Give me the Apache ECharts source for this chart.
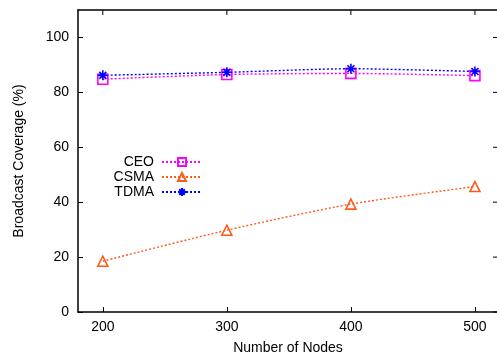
<!DOCTYPE html>
<html>
<head>
<meta charset="utf-8">
<script src="https://cdn.jsdelivr.net/npm/echarts@6/dist/echarts.min.js"></script>
<style>
  html, body { margin: 0; padding: 0; background: #fff; }
  #chart { width: 497px; height: 360px; }
</style>
</head>
<body>
<div id="chart"></div>
<script>
// Number of nodes on the x axis
const nodes = [200, 300, 400, 500];
const xTicks = [200, 300, 400, 500];
const yTicks = [0, 20, 40, 60, 80, 100];

// Broadcast coverage (%) for each scheme
const ceo = [84.8, 86.5, 86.9, 86.1];
const csma = [18.5, 29.8, 39.3, 45.7];
const tdma = [86.2, 87.3, 88.6, 87.6];

const FONT = 'Liberation Sans, Arial, sans-serif';
const asterisk = 'path://M0,5L10,5M5,0L5,10M1.5,1.5L8.5,8.5M1.5,8.5L8.5,1.5';

function pairs(vals) { return nodes.map((n, i) => [n, vals[i]]); }

function lineSeries(name, vals, color, symbol, size) {
  return {
    name: name,
    type: 'line',
    data: pairs(vals),
    smooth: 0.25,
    symbol: symbol,
    symbolSize: size,
    showSymbol: true,
    lineStyle: { color: color, width: 1.4, type: [2, 2] },
    itemStyle: { color: 'none', borderColor: color, borderWidth: 1.6 },
    emphasis: { disabled: true },
    z: 3
  };
}

function legendFor(name, top) {
  return {
    data: [name],
    right: 294,
    top: top,
    orient: 'vertical',
    align: 'right',
    itemWidth: 40,
    itemHeight: 10,
    itemGap: 0,
    padding: 0,
    selectedMode: false,
    textStyle: { fontFamily: FONT, fontSize: 14, color: '#000', padding: [0, 3, 0, 0] }
  };
}

const chart = echarts.init(document.getElementById('chart'), null, { renderer: 'canvas' });

// frame spans a little past the right edge of the canvas
const X_MIN = 180, X_MAX = 518.6, Y_MIN = 0, Y_MAX = 110;
const frameLine = { show: true, onZero: false, lineStyle: { color: '#000', width: 1.5 } };

chart.setOption({
  animation: false,
  backgroundColor: '#fff',
  grid: { left: 78, right: -1, top: 10, bottom: 48, containLabel: false, outerBoundsMode: 'none' },
  legend: [legendFor('CEO', 155), legendFor('CSMA', 170), legendFor('TDMA', 185)],
  xAxis: [
    {
      type: 'value', min: X_MIN, max: X_MAX, splitLine: { show: false },
      position: 'bottom',
      axisLine: frameLine,
      axisTick: { show: true, inside: true, length: 5, customValues: xTicks, lineStyle: { color: '#000' } },
      name: 'Number of Nodes',
      nameLocation: 'middle',
      nameGap: 29,
      nameTextStyle: { fontFamily: FONT, fontSize: 14, color: '#000' },
      axisLabel: { customValues: xTicks, fontFamily: FONT, fontSize: 14, color: '#000', margin: 8 }
    },
    {
      type: 'value', min: X_MIN, max: X_MAX, splitLine: { show: false },
      position: 'top',
      axisLine: frameLine,
      axisTick: { show: false },
      axisLabel: { show: false }
    }
  ],
  yAxis: {
    type: 'value', min: Y_MIN, max: Y_MAX, splitLine: { show: false },
    position: 'left',
    axisLine: frameLine,
    axisTick: { show: true, inside: true, length: 5, customValues: yTicks, lineStyle: { color: '#000' } },
    name: 'Broadcast Coverage (%)',
    nameLocation: 'middle',
    nameGap: 52,
    nameTextStyle: { fontFamily: FONT, fontSize: 14, color: '#000' },
    axisLabel: { customValues: yTicks, fontFamily: FONT, fontSize: 14, color: '#000', margin: 9 }
  },
  series: [
    lineSeries('CEO', ceo, '#ff00ff', 'rect', 10),
    lineSeries('CSMA', csma, '#ff5a1a', 'triangle', 10),
    lineSeries('TDMA', tdma, '#0000ff', asterisk, 10)
  ]
});

// mirrored ticks along the top and right edges of the frame
const tickLen = 5;
const xRight = chart.convertToPixel({ xAxisIndex: 0 }, X_MAX);
const yTop = chart.convertToPixel({ yAxisIndex: 0 }, Y_MAX);
const mirrorTicks = [];
xTicks.forEach(v => {
  const px = chart.convertToPixel({ xAxisIndex: 0 }, v);
  mirrorTicks.push({ type: 'line', shape: { x1: px, y1: yTop, x2: px, y2: yTop + tickLen },
    style: { stroke: '#000', lineWidth: 1 }, silent: true });
});
yTicks.forEach(v => {
  const py = chart.convertToPixel({ yAxisIndex: 0 }, v);
  mirrorTicks.push({ type: 'line', shape: { x1: xRight, y1: py, x2: xRight - tickLen, y2: py },
    style: { stroke: '#000', lineWidth: 1 }, silent: true });
});
chart.setOption({ graphic: mirrorTicks });
</script>
</body>
</html>
